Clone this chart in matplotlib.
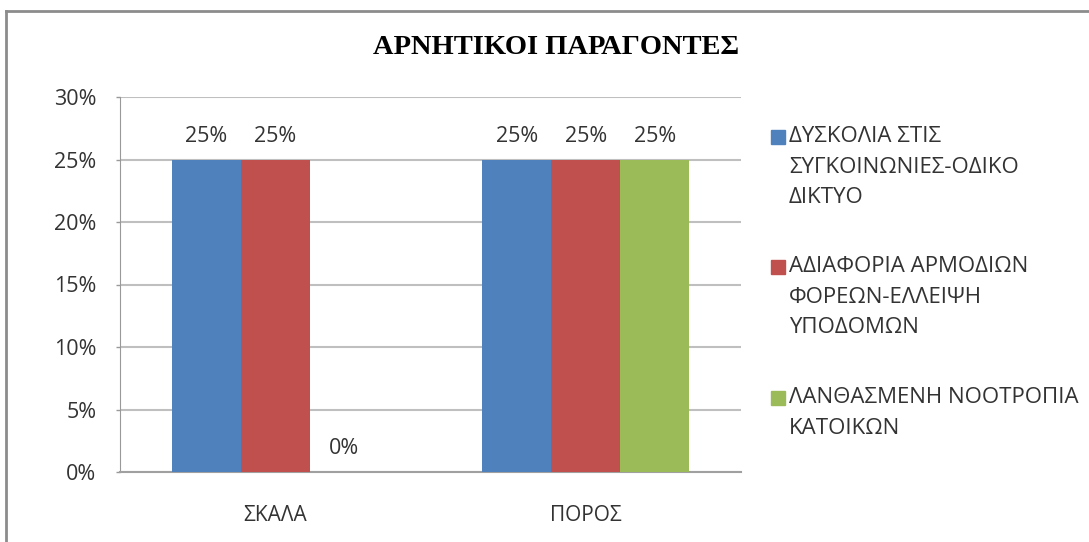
import matplotlib.pyplot as plt
from matplotlib.patches import Rectangle
from matplotlib.lines import Line2D

# Αρνητικοί παράγοντες ανά περιοχή (ποσοστά)
περιοχες = ["ΣΚΑΛΑ", "ΠΟΡΟΣ"]
σειρες = [
    "ΔΥΣΚΟΛΙΑ ΣΤΙΣ\nΣΥΓΚΟΙΝΩΝΙΕΣ-ΟΔΙΚΟ\nΔΙΚΤΥΟ",
    "ΑΔΙΑΦΟΡΙΑ ΑΡΜΟΔΙΩΝ\nΦΟΡΕΩΝ-ΕΛΛΕΙΨΗ\nΥΠΟΔΟΜΩΝ",
    "ΛΑΝΘΑΣΜΕΝΗ ΝΟΟΤΡΟΠΙΑ\nΚΑΤΟΙΚΩΝ",
]
τιμες = [
    [25, 25],  # δυσκολία στις συγκοινωνίες
    [25, 25],  # αδιαφορία αρμοδίων
    [0, 25],   # λανθασμένη νοοτροπία
]
χρωματα = ["#4F81BD", "#C0504D", "#9BBB59"]
yticks = [0, 5, 10, 15, 20, 25, 30]

FONT = ["Open Sans", "DejaVu Sans"]
plt.rcParams["font.family"] = FONT

fig = plt.figure(figsize=(10.89, 5.42), dpi=100)
ax = fig.add_axes([120 / 1089, 1 - 472 / 542, 621 / 1089, 375 / 542])

πλατος = 0.222
for i, (ονομα, vals) in enumerate(zip(σειρες, τιμες)):
    xs = [k + (i - 1) * πλατος for k in range(len(περιοχες))]
    ax.bar(xs, vals, width=πλατος, color=χρωματα[i], zorder=3)
    for x, v in zip(xs, vals):
        ax.text(x, v + 1.0, f"{v}%", ha="center", va="bottom",
                fontsize=15.5, color="#333333")

ax.set_xlim(-0.5, len(περιοχες) - 0.5)
ax.set_ylim(0, 30)
ax.set_yticks(yticks)
ax.set_yticklabels([f"{t}%" for t in yticks], fontsize=15.5, color="#333333")
ax.set_xticks(range(len(περιοχες)))
ax.set_xticklabels(περιοχες, fontsize=15, color="#333333")
ax.tick_params(axis="x", length=0, pad=24)
ax.tick_params(axis="y", length=3, width=1, color="#999999", pad=14)
ax.grid(axis="y", color="#BFBFBF", linewidth=1.5, zorder=0)
for s in ["top", "right"]:
    ax.spines[s].set_visible(False)
ax.spines["left"].set_color("#999999")
ax.spines["bottom"].set_color("#A0A0A0")
ax.spines["bottom"].set_linewidth(1.5)

# τίτλος
fig.text(556 / 1089, 1 - 48 / 542, "ΑΡΝΗΤΙΚΟΙ ΠΑΡΑΓΟΝΤΕΣ", ha="center",
         va="center", fontsize=20.5, fontweight="bold",
         family=["Liberation Serif", "DejaVu Serif"])

# υπόμνημα: τετράγωνο στην πρώτη γραμμή κάθε καταχώρισης
θεσεις_y = [137, 267, 398]
for ονομα, χρ, yp in zip(σειρες, χρωματα, θεσεις_y):
    fig.patches.append(Rectangle((771 / 1089, 1 - (yp + 7) / 542), 14 / 1089, 14 / 542,
                                 transform=fig.transFigure, color=χρ))
    fig.text(789 / 1089, 1 - (yp - 11) / 542, ονομα, ha="left", va="top",
             fontsize=16, color="#333333", linespacing=1.6)

# πλαίσιο γραφήματος
fig.lines.append(Line2D([6 / 1089, 6 / 1089], [0, 1 - 11 / 542], transform=fig.transFigure,
                        color="#8C8C8C", linewidth=2))
fig.lines.append(Line2D([6 / 1089, 1], [1 - 11 / 542, 1 - 11 / 542], transform=fig.transFigure,
                        color="#8C8C8C", linewidth=2))

fig.savefig("out.png", dpi=100)
